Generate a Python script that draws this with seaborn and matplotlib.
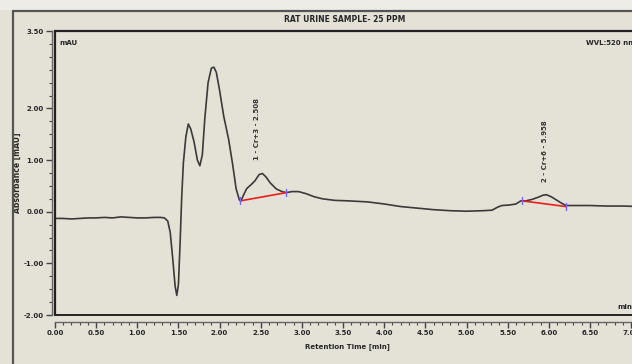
import seaborn as sns
import matplotlib.pyplot as plt
from matplotlib.lines import Line2D
from matplotlib.patches import Rectangle
from matplotlib.ticker import MultipleLocator, FormatStrFormatter

# DATA #
time_min = [0.00, 0.10, 0.20, 0.30, 0.40, 0.50, 0.60, 0.70, 0.80, 0.90, 1.00, 1.10, 1.20, 1.28,
            1.33, 1.37, 1.40, 1.43, 1.46, 1.48, 1.50, 1.52, 1.54, 1.56, 1.59, 1.62, 1.65, 1.69,
            1.73, 1.76, 1.79, 1.82, 1.86, 1.90, 1.93, 1.96, 2.00, 2.05, 2.11, 2.16, 2.20, 2.24,
            2.26, 2.29, 2.33, 2.38, 2.43, 2.48, 2.52, 2.56, 2.62, 2.69, 2.76, 2.81, 2.88, 2.96,
            3.05, 3.15, 3.25, 3.40, 3.57, 3.80, 4.00, 4.20, 4.40, 4.60, 4.80, 5.00, 5.20, 5.31,
            5.38, 5.43, 5.52, 5.60, 5.66, 5.72, 5.80, 5.87, 5.93, 5.97, 6.03, 6.09, 6.15, 6.21,
            6.35, 6.50, 6.70, 6.90, 7.10]
absorbance = [-0.13, -0.13, -0.14, -0.13, -0.12, -0.12, -0.11, -0.12, -0.10, -0.11, -0.12, -0.12,
              -0.11, -0.11, -0.12, -0.18, -0.40, -0.90, -1.45, -1.62, -1.40, -0.60, 0.30, 0.95,
              1.45, 1.70, 1.60, 1.35, 1.00, 0.89, 1.10, 1.80, 2.50, 2.78, 2.80, 2.70, 2.35, 1.85,
              1.40, 0.90, 0.45, 0.23, 0.21, 0.32, 0.45, 0.52, 0.60, 0.72, 0.74, 0.68, 0.55, 0.44,
              0.39, 0.37, 0.39, 0.39, 0.35, 0.29, 0.25, 0.22, 0.21, 0.19, 0.15, 0.10, 0.07, 0.04,
              0.02, 0.01, 0.02, 0.03, 0.09, 0.12, 0.13, 0.15, 0.21, 0.21, 0.24, 0.28, 0.32, 0.33,
              0.29, 0.23, 0.17, 0.12, 0.12, 0.12, 0.11, 0.11, 0.10]

# integration baselines (start/end of each peak)
base_t = [[2.25, 2.81], [5.68, 6.21]]
base_y = [[0.21, 0.37], [0.21, 0.10]]
peak_labels = ['1 - Cr+3 - 2.508', '2 - Cr+6 - 5.958']
label_t = [2.45, 5.95]
label_y = [1.60, 1.18]

xticks = [0.0, 0.5, 1.0, 1.5, 2.0, 2.5, 3.0, 3.5, 4.0, 4.5, 5.0, 5.5, 6.0, 6.5, 7.0]
yticks = [-2.0, -1.0, 0.0, 1.0, 2.0, 3.5]

# STYLE #
bg = '#e4e1d7'
sns.set_style('white', {'axes.facecolor': bg, 'figure.facecolor': bg})
plt.rcParams['font.family'] = ['DejaVu Sans']
plt.rcParams['font.weight'] = 'bold'

W, H = 632, 364
fig = plt.figure(figsize=(W / 100, H / 100), dpi=100)
fig.patch.set_facecolor(bg)
ax = fig.add_axes([55 / W, (H - 315) / H, 585 / W, 284 / H])

# PLOT #
sns.lineplot(x=time_min, y=absorbance, sort=False, estimator=None, color='#3a3a3a', lw=1.2, ax=ax)
for bt, by in zip(base_t, base_y):
    sns.lineplot(x=bt, y=by, sort=False, estimator=None, color='#e8201c', lw=1.2, ax=ax)
    for t, y in zip(bt, by):
        ax.plot([t, t], [y - 0.07, y + 0.07], color='#6a6aff', lw=1.0)
for lab, t, y in zip(peak_labels, label_t, label_y):
    ax.text(t, y, lab, rotation=90, ha='center', va='center', fontsize=5, fontweight='bold',
            color='#333333')

ax.set_xlim(0, 585 / 82.3)
ax.set_ylim(-2.0, 3.5)

# axes: box + offset scales
for s in ['top', 'right']:
    ax.spines[s].set_visible(True)
    ax.spines[s].set_color('#222222')
    ax.spines[s].set_linewidth(1.6)
ax.spines['left'].set_position(('outward', 2.2))
ax.spines['bottom'].set_position(('outward', 5))
ax.spines['left'].set_color('#666666')
ax.spines['bottom'].set_color('#666666')
ax.spines['left'].set_linewidth(1.0)
ax.spines['bottom'].set_linewidth(1.0)
ax.add_line(Line2D([0, 0], [0, 1], transform=ax.transAxes, color='#222222', lw=1.6, clip_on=False))
ax.add_line(Line2D([0, 1], [0, 0], transform=ax.transAxes, color='#222222', lw=1.4, clip_on=False))

ax.set_xticks(xticks)
ax.set_yticks(yticks)
ax.xaxis.set_minor_locator(MultipleLocator(0.1))
ax.yaxis.set_minor_locator(MultipleLocator(0.25))
ax.xaxis.set_major_formatter(FormatStrFormatter('%.2f'))
ax.yaxis.set_major_formatter(FormatStrFormatter('%.2f'))
ax.tick_params(which='major', direction='out', length=4, width=1.0, color='#444444',
               labelsize=5, pad=2)
ax.tick_params(which='minor', direction='out', length=2.2, width=0.8, color='#444444')
ax.tick_params(axis='x', which='both', bottom=True)
ax.tick_params(axis='y', which='both', left=True)
for lbl in ax.get_xticklabels() + ax.get_yticklabels():
    lbl.set_fontweight('bold')

ax.set_xlabel('Retention Time [min]', fontsize=5, fontweight='bold', labelpad=5)
ax.set_ylabel('Absorbance [mAU]', fontsize=5.5, fontweight='bold', labelpad=-2)
ax.yaxis.set_label_coords(-33 / 585, 0.5)

# texts on panel
fig.text(345 / W, 1 - 20 / H, 'RAT URINE SAMPLE- 25 PPM', ha='center', va='center',
         fontsize=5.5, fontweight='bold')
fig.text(59 / W, 1 - 43 / H, 'mAU', ha='left', va='center', fontsize=5, fontweight='bold')
fig.text(586 / W, 1 - 43 / H, 'WVL:520 nm', ha='left', va='center', fontsize=5, fontweight='bold')
fig.text(617 / W, 1 - 307 / H, 'min', ha='left', va='center', fontsize=5, fontweight='bold')

# outer panel frame
fig.add_artist(Rectangle((0, 1 - 10 / H), 1, 10 / H, transform=fig.transFigure,
                         facecolor='#eeece6', edgecolor='none'))
fig.add_artist(Line2D([13 / W, 13 / W], [0, 1 - 11 / H], transform=fig.transFigure,
                      color='#555555', lw=1.6))
fig.add_artist(Line2D([13 / W, 1], [1 - 11 / H, 1 - 11 / H], transform=fig.transFigure,
                      color='#555555', lw=1.6))

fig.savefig('out.png', dpi=100, facecolor=bg)
